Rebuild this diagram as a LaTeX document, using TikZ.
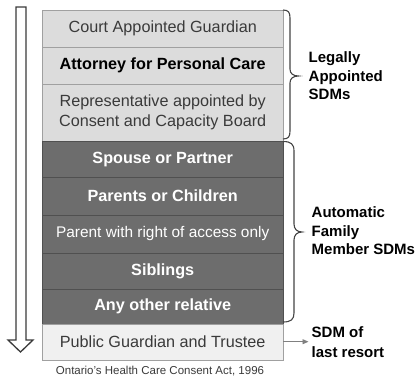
\documentclass[tikz,border=0pt]{standalone}
\usepackage{fontspec}
\setmainfont{Liberation Sans}
\usetikzlibrary{arrows.meta}
\definecolor{lightrow}{HTML}{DCDCDC}
\definecolor{lastrow}{HTML}{F0F0F0}
\definecolor{darkrow}{HTML}{6D6D6D}
\definecolor{lightline}{HTML}{A0A0A0}
\definecolor{darkline}{HTML}{505050}
\definecolor{txtgray}{HTML}{3A3A3A}
\definecolor{bracegray}{HTML}{444444}
\begin{document}
\begin{tikzpicture}[x=1bp,y=-1bp,
  rowbox/.style={minimum width=241bp, inner sep=0pt, anchor=north west, align=center,
    font=\fontsize{16.2bp}{19.5bp}\selectfont},
  lightbox/.style={rowbox, fill=lightrow, draw=lightline, text=txtgray},
  darkbox/.style={rowbox, fill=darkrow, draw=darkline, text=white, font=\fontsize{16.2bp}{19.5bp}\selectfont\bfseries},
  sidelabel/.style={anchor=west, align=left, inner sep=0pt, text=black,
    font=\fontsize{15bp}{18.5bp}\selectfont\bfseries},
  bracestroke/.style={draw=bracegray, line width=1.1bp}
]
\useasboundingbox (0,0) rectangle (419,377);
% down arrow
\draw[draw=txtgray, fill=white, line width=1.3bp, line join=miter]
  (16,7) -- (26,7) -- (26,340) -- (33,340) -- (20.5,352) -- (8,340) -- (16,340) -- cycle;
% rows
\node[lightbox, minimum height=37bp] (r1) at (42,9.5) {Court Appointed Guardian};
\node[lightbox, minimum height=37bp, text=black, font=\fontsize{16.2bp}{19.5bp}\selectfont\bfseries] (r2) at (42,46.5) {Attorney for Personal Care};
\node[lightbox, minimum height=57.5bp] (r3) at (42,83.5) {Representative appointed by\\Consent and Capacity Board};
\node[darkbox, minimum height=36bp] (r4) at (42,141) {Spouse or Partner};
\node[darkbox, minimum height=37.5bp] (r5) at (42,177) {Parents or Children};
\node[darkbox, minimum height=38.5bp, font=\fontsize{15.4bp}{18bp}\selectfont] (r6) at (42,214.5) {Parent with right of access only};
\node[darkbox, minimum height=35.5bp] (r7) at (42,253) {Siblings};
\node[darkbox, minimum height=35bp] (r8) at (42,288.5) {Any other relative};
\node[lightbox, fill=lastrow, minimum height=36bp] (r9) at (42,323.5) {Public Guardian and Trustee};
% braces
\draw[bracestroke] (283,10) .. controls (288.5,10) and (290,12.5) .. (290,18) -- (290,69)
  .. controls (290,73.5) and (293,76) .. (298.5,76)
  .. controls (293,76) and (290,78.5) .. (290,83) -- (290,131)
  .. controls (290,136.5) and (288.5,139) .. (283,139);
\draw[bracestroke] (283,141.5) .. controls (291,141.5) and (294,144) .. (294,151) -- (294,224)
  .. controls (294,229) and (297,232) .. (302,232)
  .. controls (297,232) and (294,235) .. (294,240) -- (294,313)
  .. controls (294,319.5) and (291,322) .. (283,322);
% side labels
\node[sidelabel] (legal) at (308.5,76) {Legally\\Appointed\\SDMs};
\node[sidelabel] (family) at (311.5,231) {Automatic\\Family\\Member SDMs};
\node[sidelabel, font=\fontsize{15bp}{19.5bp}\selectfont\bfseries] (sdm) at (311.5,342) {SDM of\\last resort};
\draw[draw=gray, line width=0.9bp, -{Triangle[length=6bp,width=5bp]}, shorten >=3bp]
  (r9.east) -- (r9.east -| sdm.west);
% caption
\node[inner sep=0pt, text=txtgray, font=\fontsize{11.5bp}{13bp}\selectfont] (cap) at (160,371) {Ontario’s Health Care Consent Act, 1996};
\end{tikzpicture}
\end{document}
